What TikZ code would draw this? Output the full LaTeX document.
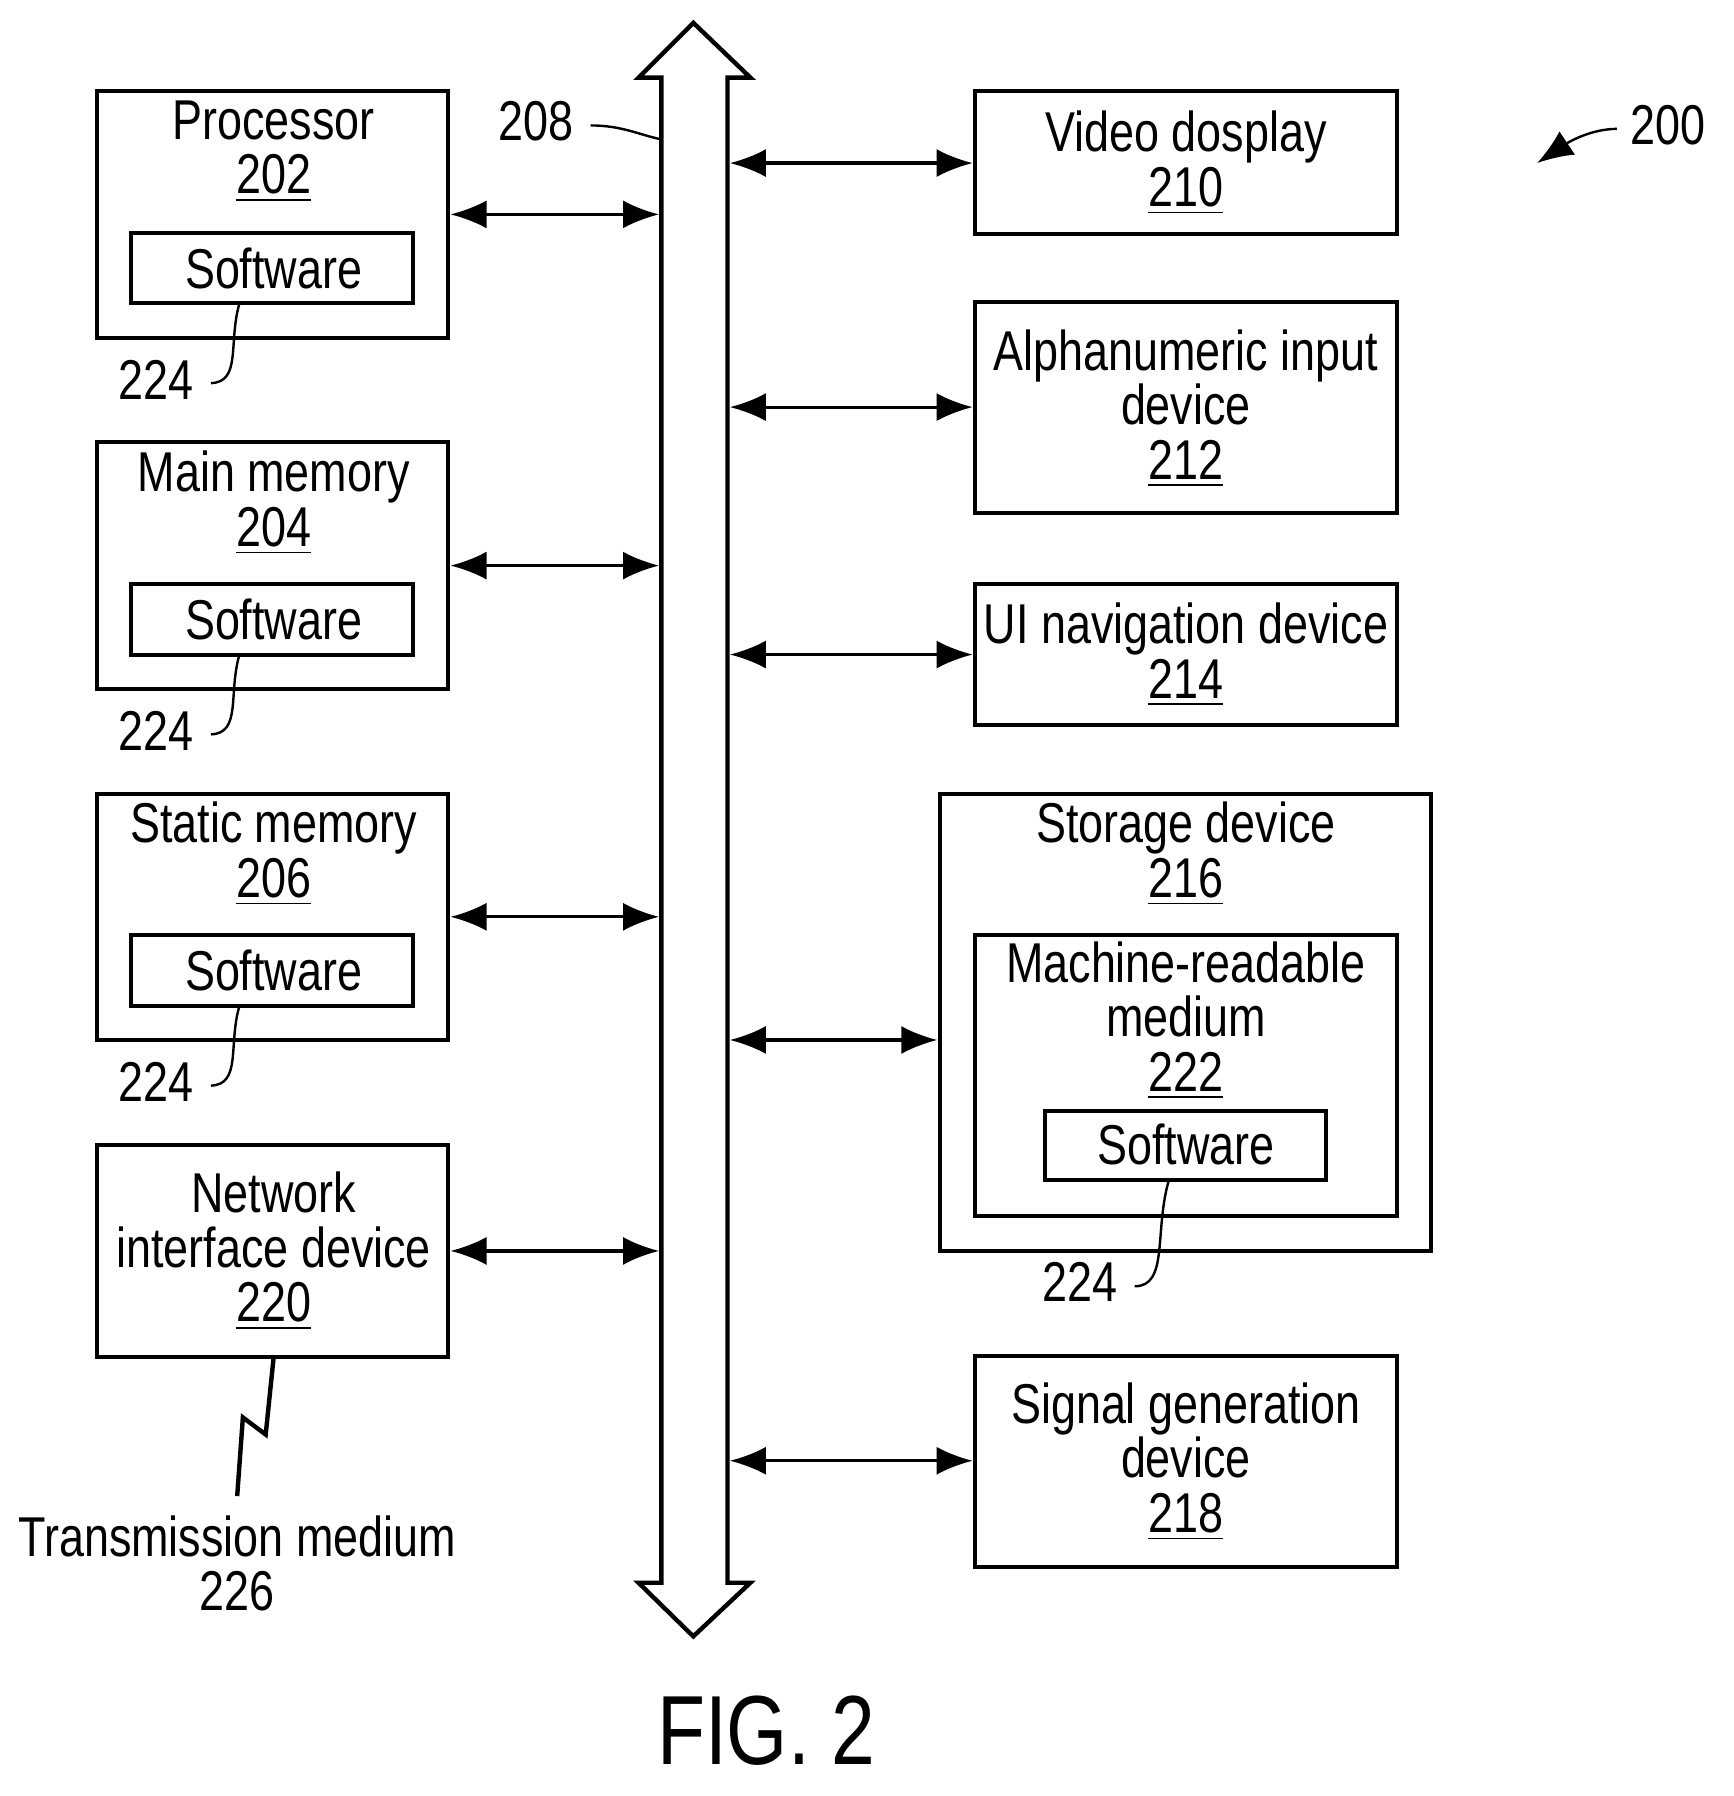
\documentclass[tikz,border=0pt]{standalone}
\usepackage{fontspec}
\setmainfont{Liberation Sans}[FakeStretch=0.8]
\begin{document}
\begin{tikzpicture}[x=0.01cm,y=-0.01cm,
  box/.style={draw,line width=1pt},
  txt/.style={align=center,font=\fontsize{14}{13.6}\selectfont,inner sep=0pt},
  arr/.style={line width=0.8pt,{Latex[length=9pt,width=7pt]}-{Latex[length=9pt,width=7pt]}},
  lead/.style={line width=0.6pt}]
\usetikzlibrary{arrows.meta}
\useasboundingbox (0,0) rectangle (1520,1575);
% bus
\draw[line width=1.1pt] (580,68) -- (560,68) -- (608,20) -- (658,68) -- (638,68) -- (638,1388) -- (658,1388) -- (608,1435) -- (560,1388) -- (580,1388) -- cycle;
% left boxes
\draw[box] (85,80) rectangle (393,296);
\node[txt] (p) at (240,133) {Processor\\\underline{202}};
\draw[box] (115,204) rectangle (362,266); \node[txt] (s1) at (240,235) {Software};
\draw[box] (85,388) rectangle (393,604);
\node[txt] (m) at (240,441) {Main memory\\\underline{204}};
\draw[box] (115,512) rectangle (362,574); \node[txt] (s2) at (240,543) {Software};
\draw[box] (85,696) rectangle (393,912);
\node[txt] (sm) at (240,749) {Static memory\\\underline{206}};
\draw[box] (115,820) rectangle (362,882); \node[txt] (s3) at (240,851) {Software};
\draw[box] (85,1004) rectangle (393,1190);
\node[txt] (n) at (240,1097) {Network\\interface device\\\underline{220}};
\foreach \y in {188,496,804,1097} \draw[arr] (395,\y) -- (578,\y);
\foreach \o in {0,308,616}{
  \node[txt] at (137,333+\o) {224};
  \draw[lead] (210,266+\o) .. controls (200,300+\o) and (212,335+\o) .. (185,336+\o);
}
% right boxes
\draw[box] (855,80) rectangle (1225,205); \node[txt] (v) at (1040,143) {Video dosplay\\\underline{210}};
\draw[box] (855,265) rectangle (1225,450); \node[txt] (a) at (1040,358) {Alphanumeric input\\device\\\underline{212}};
\draw[box] (855,512) rectangle (1225,636); \node[txt] (u) at (1040,574) {UI navigation device\\\underline{214}};
\draw[box] (824,696) rectangle (1255,1097); \node[txt] (st) at (1040,749) {Storage device\\\underline{216}};
\draw[box] (855,820) rectangle (1225,1066); \node[txt] (mr) at (1040,895) {Machine-readable\\medium\\\underline{222}};
\draw[box] (916,974) rectangle (1163,1035); \node[txt] (s4) at (1040,1004) {Software};
\draw[box] (855,1189) rectangle (1225,1374); \node[txt] (sg) at (1040,1282) {Signal generation\\device\\\underline{218}};
\draw[arr] (640,143) -- (853,143);
\draw[arr] (640,357) -- (853,357);
\draw[arr] (640,574) -- (853,574);
\draw[arr] (640,912) -- (822,912);
\draw[arr] (640,1281) -- (853,1281);
\node[txt] at (947,1124) {224};
\draw[lead] (1025,1035) .. controls (1012,1080) and (1025,1128) .. (995,1128);
\node[txt] (l208) at (470,106) {208};
\draw[lead] (518,110) .. controls (545,110) and (560,118) .. (579,122);
\node[txt] (l200) at (1463,110) {200};
\draw[lead,-{Latex[length=9pt,width=7pt]}] (1418,113) .. controls (1395,113) and (1375,125) .. (1348,143);
\draw[line width=1.1pt] (240,1190) -- (233,1258) -- (213,1243) -- (208,1312);
\node[txt] (tm) at (208,1371) {Transmission medium\\226};
\node[inner sep=0pt,font=\fontsize{24.5}{28}\selectfont] (fig) at (672,1518) {FIG. 2};
\end{tikzpicture}
\end{document}
